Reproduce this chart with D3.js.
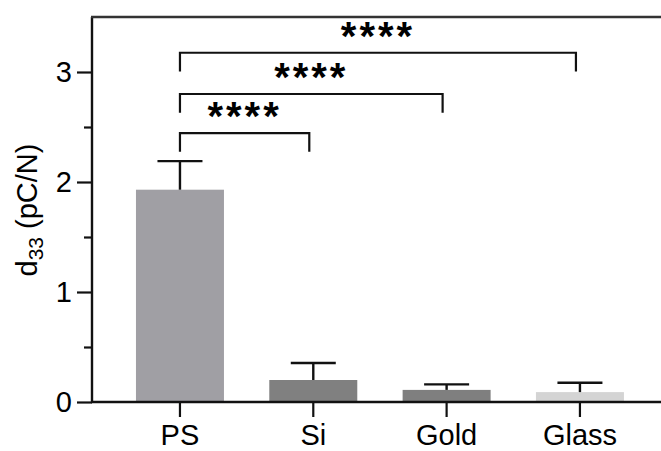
<!DOCTYPE html>
<html>
<head>
<meta charset="utf-8">
<script src="https://cdn.jsdelivr.net/npm/d3@7"></script>
<style>
  html, body { margin: 0; padding: 0; background: #fff; }
  svg { display: block; }
  text { font-family: "Liberation Sans", Arial, sans-serif; fill: #000; }
</style>
</head>
<body>
<svg id="chart" width="661" height="451"></svg>
<script>
// Piezoelectric coefficient d33 per substrate (mean with upper SD bar)
const categories = ["PS", "Si", "Gold", "Glass"];
const means = [1.93, 0.20, 0.11, 0.09];
const errors = [0.26, 0.155, 0.05, 0.085];
const barColors = ["#a09fa4", "#808080", "#7f7f7f", "#d4d4d4"];

// Significance comparisons: [from, to], bracket level (data units), label
const compFrom = ["PS", "PS", "PS"];
const compTo = ["Si", "Gold", "Glass"];
const compLevel = [2.445, 2.80, 3.175];
const compLabel = ["****", "****", "****"];

const majorTicks = [0, 1, 2, 3];
const minorTicks = [0.5, 1.5, 2.5];
const yMax = 3.5;

const W = 661, H = 451;
const plotLeft = 92, plotBottom = 402, plotTop = 17;
const fontSize = 29;

const svg = d3.select("#chart");

const x = d3.scaleBand()
  .domain(categories)
  .range([113.3, 646.6])
  .paddingInner(0.34)
  .paddingOuter(0.17);

const y = d3.scaleLinear().domain([0, yMax]).range([plotBottom, plotTop]);

const cx = c => x(c) + x.bandwidth() / 2;
const legLen = 0.17; // bracket leg length in data units

// Bars
svg.append("g")
  .selectAll("rect")
  .data(categories)
  .join("rect")
  .attr("x", d => x(d))
  .attr("width", x.bandwidth())
  .attr("y", (d, i) => y(means[i]))
  .attr("height", (d, i) => y(0) - y(means[i]))
  .attr("fill", (d, i) => barColors[i]);

// Upper error bars
const eb = svg.append("g").attr("stroke", "#111").attr("stroke-width", 2.4);
categories.forEach((c, i) => {
  const capY = y(means[i] + errors[i]);
  eb.append("line")
    .attr("x1", cx(c)).attr("x2", cx(c))
    .attr("y1", y(means[i])).attr("y2", capY);
  eb.append("line")
    .attr("x1", cx(c) - 22.5).attr("x2", cx(c) + 22.5)
    .attr("y1", capY).attr("y2", capY);
});

// Y axis: major ticks with labels
const yAxis = svg.append("g")
  .attr("transform", `translate(${plotLeft},0)`)
  .call(d3.axisLeft(y).tickValues(majorTicks).tickSize(15).tickSizeOuter(0).tickPadding(5).tickFormat(d3.format("d")));
yAxis.select(".domain").remove();
yAxis.selectAll("line").attr("stroke", "#111").attr("stroke-width", 2.2);
yAxis.selectAll("text").attr("font-size", fontSize).attr("font-family", "Liberation Sans, Arial, sans-serif");

// Y axis: minor ticks
const yMinor = svg.append("g")
  .attr("transform", `translate(${plotLeft},0)`)
  .call(d3.axisLeft(y).tickValues(minorTicks).tickSize(8).tickSizeOuter(0).tickFormat(""));
yMinor.select(".domain").remove();
yMinor.selectAll("line").attr("stroke", "#111").attr("stroke-width", 2.2);

// X axis ticks and labels
const xAxis = svg.append("g")
  .attr("transform", `translate(0,${plotBottom})`)
  .call(d3.axisBottom(x).tickSize(15).tickSizeOuter(0).tickPadding(7));
xAxis.select(".domain").remove();
xAxis.selectAll("line").attr("stroke", "#111").attr("stroke-width", 2.2);
xAxis.selectAll("text").attr("font-size", fontSize).attr("font-family", "Liberation Sans, Arial, sans-serif");

// Frame lines: left axis, baseline, top edge
const frame = svg.append("g").attr("stroke", "#111").attr("stroke-width", 2.4).attr("fill", "none");
frame.append("line").attr("x1", plotLeft).attr("x2", plotLeft).attr("y1", y(yMax)).attr("y2", y(0));
frame.append("line").attr("x1", plotLeft - 1).attr("x2", W).attr("y1", y(0)).attr("y2", y(0));
frame.append("line").attr("x1", plotLeft - 1).attr("x2", W).attr("y1", y(yMax)).attr("y2", y(yMax)).attr("stroke", "#333");

// Y axis title with subscript
const yTitle = svg.append("text")
  .attr("transform", `translate(37,210) rotate(-90)`)
  .attr("text-anchor", "middle")
  .attr("font-size", fontSize);
yTitle.append("tspan").text("d");
yTitle.append("tspan").attr("font-size", 21).attr("dy", 6).text("33");
yTitle.append("tspan").attr("dy", -6).text(" (pC/N)");

// Significance brackets
const br = svg.append("g");
compFrom.forEach((f, i) => {
  const x1 = cx(f);
  const x2 = cx(compTo[i]) - 4;
  const yl = y(compLevel[i]);
  const yb = y(compLevel[i] - legLen);
  br.append("path")
    .attr("d", `M${x1},${yb}V${yl}H${x2}V${yb}`)
    .attr("fill", "none")
    .attr("stroke", "#111")
    .attr("stroke-width", 2.2);
  br.append("text")
    .attr("x", (x1 + x2) / 2)
    .attr("y", yl - 3)
    .attr("text-anchor", "middle")
    .attr("font-size", 40)
    .attr("font-weight", "bold")
    .attr("letter-spacing", 3)
    .text(compLabel[i]);
});
</script>
</body>
</html>
